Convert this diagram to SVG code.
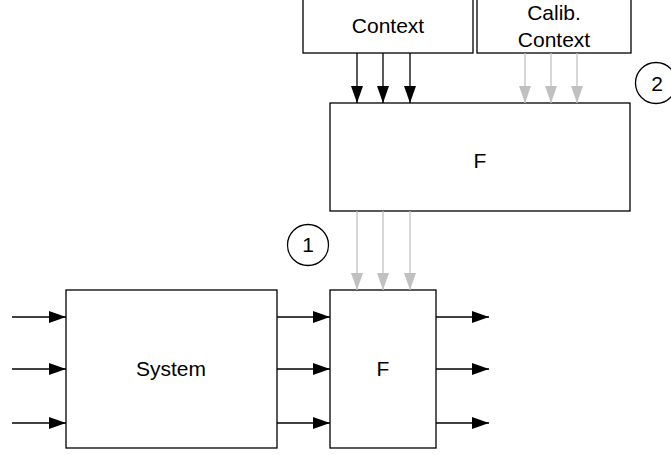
<svg xmlns="http://www.w3.org/2000/svg" width="671" height="455" viewBox="0 0 671 455">
<style>
.box{fill:#fff;stroke:#000;stroke-width:1.3}
.lbl{font-family:"Liberation Sans",Arial,sans-serif;font-size:21px;fill:#000;text-anchor:middle}
.blk{stroke:#000;stroke-width:1.3;fill:none}
.gry{stroke:#c0c0c0;stroke-width:1.3;fill:none}
</style>
<defs>
<marker id="ab" viewBox="0 0 17 12" refX="17" refY="6" markerWidth="17" markerHeight="12" markerUnits="userSpaceOnUse" orient="auto"><path d="M0,0 L17,6 L0,12 z" fill="#000"/></marker>
<marker id="ag" viewBox="0 0 17 12" refX="17" refY="6" markerWidth="17" markerHeight="12" markerUnits="userSpaceOnUse" orient="auto"><path d="M0,0 L17,6 L0,12 z" fill="#c0c0c0"/></marker>
</defs>
<rect width="671" height="455" fill="#fff"/>
<g id="context"><rect class="box" x="303" y="-5" width="170" height="58"/><text class="lbl" x="388" y="33">Context</text></g>
<g id="calib"><rect class="box" x="477" y="-5" width="154" height="58"/><text class="lbl" x="554" y="20">Calib.</text><text class="lbl" x="554" y="47">Context</text></g>
<g id="f-upper"><rect class="box" x="330" y="103" width="300" height="108"/><text class="lbl" x="480" y="168">F</text></g>
<g id="system"><rect class="box" x="66" y="290" width="211" height="158"/><text class="lbl" x="171" y="376">System</text></g>
<g id="f-lower"><rect class="box" x="330" y="290" width="106" height="158"/><text class="lbl" x="383" y="376">F</text></g>
<g id="badge1"><circle cx="308" cy="245" r="20.5" fill="#fff" stroke="#000" stroke-width="1.3"/><text class="lbl" x="308" y="252">1</text></g>
<g id="badge2"><circle cx="656" cy="83" r="20.5" fill="#fff" stroke="#000" stroke-width="1.3"/><text class="lbl" x="657" y="91">2</text></g>
<g id="connectors">
<line class="blk" marker-end="url(#ab)" x1="357" y1="53" x2="357" y2="103"/>
<line class="blk" marker-end="url(#ab)" x1="383" y1="53" x2="383" y2="103"/>
<line class="blk" marker-end="url(#ab)" x1="410" y1="53" x2="410" y2="103"/>
<line class="gry" marker-end="url(#ag)" x1="525" y1="53" x2="525" y2="103"/>
<line class="gry" marker-end="url(#ag)" x1="551" y1="53" x2="551" y2="103"/>
<line class="gry" marker-end="url(#ag)" x1="577" y1="53" x2="577" y2="103"/>
<line class="gry" marker-end="url(#ag)" x1="357" y1="211" x2="357" y2="290"/>
<line class="gry" marker-end="url(#ag)" x1="383" y1="211" x2="383" y2="290"/>
<line class="gry" marker-end="url(#ag)" x1="410" y1="211" x2="410" y2="290"/>
<line class="blk" marker-end="url(#ab)" x1="12" y1="317" x2="66" y2="317"/>
<line class="blk" marker-end="url(#ab)" x1="12" y1="369" x2="66" y2="369"/>
<line class="blk" marker-end="url(#ab)" x1="12" y1="423" x2="66" y2="423"/>
<line class="blk" marker-end="url(#ab)" x1="277" y1="317" x2="330" y2="317"/>
<line class="blk" marker-end="url(#ab)" x1="277" y1="369" x2="330" y2="369"/>
<line class="blk" marker-end="url(#ab)" x1="277" y1="423" x2="330" y2="423"/>
<line class="blk" marker-end="url(#ab)" x1="436" y1="317" x2="489" y2="317"/>
<line class="blk" marker-end="url(#ab)" x1="436" y1="369" x2="489" y2="369"/>
<line class="blk" marker-end="url(#ab)" x1="436" y1="423" x2="489" y2="423"/>
</g>
</svg>
